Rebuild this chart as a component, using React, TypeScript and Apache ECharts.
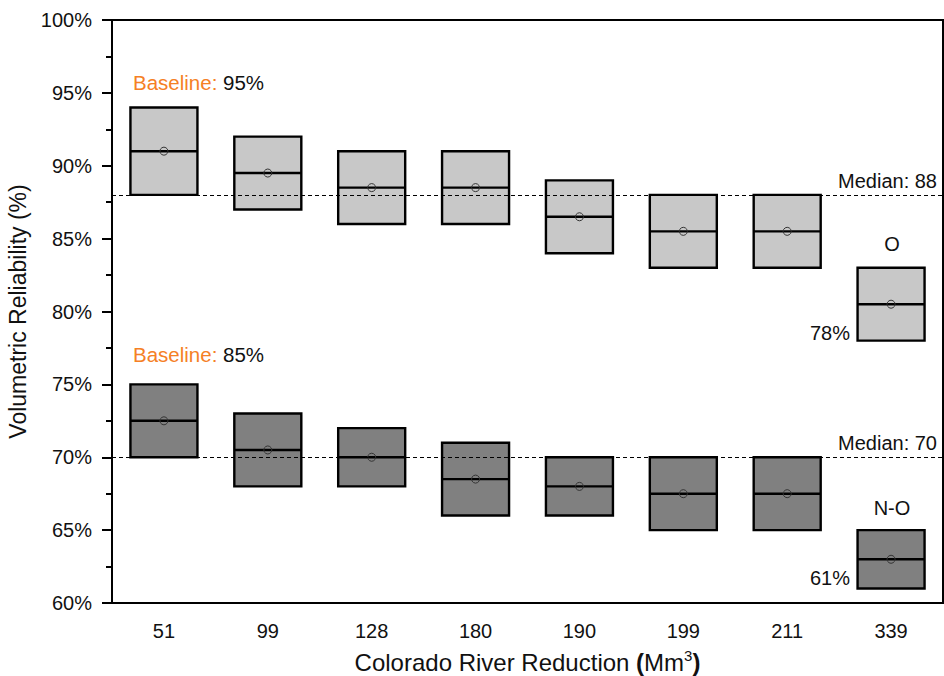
import React, { useEffect, useRef } from "react";
import * as echarts from "echarts";

const categories = ["51", "99", "128", "180", "190", "199", "211", "339"];
const yTicks = [60, 65, 70, 75, 80, 85, 90, 95, 100];

const oLow = [88, 87, 86, 86, 84, 83, 83, 78];
const oHigh = [94, 92, 91, 91, 89, 88, 88, 83];
const oMedian = [91, 89.5, 88.5, 88.5, 86.5, 85.5, 85.5, 80.5];
const oMean = [91, 89.5, 88.5, 88.5, 86.5, 85.5, 85.5, 80.5];

const noLow = [70, 68, 68, 66, 66, 65, 65, 61];
const noHigh = [75, 73, 72, 71, 70, 70, 70, 65];
const noMedian = [72.5, 70.5, 70, 68.5, 68, 67.5, 67.5, 63];
const noMean = [72.5, 70.5, 70, 68.5, 68, 67.5, 67.5, 63];

const medianO = 88;
const medianNO = 70;

const FONT = "'Liberation Sans', Arial, sans-serif";

function makeRender(fill: string) {
  return (params: any, api: any) => {
    const x = api.value(0);
    const lo = api.coord([x, api.value(1)]);
    const hi = api.coord([x, api.value(2)]);
    const med = api.coord([x, api.value(3)]);
    const mean = api.coord([x, api.value(4)]);
    const bw = api.size([1, 0])[0] * 0.645;
    const cx = lo[0];
    return {
      type: "group",
      children: [
        {
          type: "rect",
          shape: { x: cx - bw / 2, y: hi[1], width: bw, height: lo[1] - hi[1] },
          style: { fill, stroke: "#000", lineWidth: 2.4 },
        },
        {
          type: "line",
          shape: { x1: cx - bw / 2, y1: med[1], x2: cx + bw / 2, y2: med[1] },
          style: { stroke: "#000", lineWidth: 2.4 },
        },
        {
          type: "circle",
          shape: { cx: mean[0], cy: mean[1], r: 4 },
          style: { fill: "none", stroke: "#333", lineWidth: 1 },
        },
      ],
    };
  };
}

export default function App() {
  const ref = useRef<HTMLDivElement>(null);
  useEffect(() => {
    const chart = echarts.init(ref.current!, undefined, { renderer: "svg" });
    const oData = categories.map((_, i) => [i, oLow[i], oHigh[i], oMedian[i], oMean[i]]);
    const noData = categories.map((_, i) => [i, noLow[i], noHigh[i], noMedian[i], noMean[i]]);
    const mlLabel = (v: number) => ({
      position: "insideEndTop",
      formatter: "Median: " + v,
      fontSize: 20,
      fontFamily: FONT,
      color: "#111",
      distance: [6, 4],
    });
    const baseRich = {
      a: { fill: "#F58025", fontSize: 20.5, fontFamily: FONT },
      b: { fill: "#111", fontSize: 20.5, fontFamily: FONT },
    };
    chart.setOption({
      animation: false,
      backgroundColor: "#fff",
      grid: {
        left: 112,
        right: 1,
        top: 20,
        bottom: 73,
        outerBoundsMode: "none",
        containLabel: false,
        show: true,
        borderColor: "#000",
        borderWidth: 2,
        backgroundColor: "transparent",
      },
      xAxis: {
        type: "category",
        data: categories,
        name: "Colorado River Reduction {p|(}Mm{s|3}{p|)}",
        nameLocation: "middle",
        nameGap: 45,
        nameTextStyle: {
          fontSize: 24,
          fontFamily: FONT,
          color: "#111",
          lineHeight: 28,
          rich: {
            p: { fontSize: 24, fontWeight: "bold", fontFamily: FONT, color: "#111", lineHeight: 28 },
            s: { fontSize: 15, fontFamily: FONT, color: "#111", verticalAlign: "top", lineHeight: 28, padding: [0, 0, 9, 0] },
          },
        },
        axisLine: { lineStyle: { color: "#000", width: 2 } },
        axisTick: { alignWithLabel: true, length: 10, lineStyle: { color: "#000", width: 2 } },
        axisLabel: { fontSize: 20, fontFamily: FONT, color: "#111", margin: 18 },
        splitLine: { show: false },
      },
      yAxis: {
        type: "value",
        min: yTicks[0],
        max: yTicks[yTicks.length - 1],
        interval: 5,
        name: "Volumetric Reliability (%)",
        nameLocation: "middle",
        nameGap: 74,
        nameTextStyle: { fontSize: 23, fontFamily: FONT, color: "#111" },
        axisLine: { show: true, lineStyle: { color: "#000", width: 2 } },
        axisTick: { show: true, length: 10, lineStyle: { color: "#000", width: 2 } },
        minorTick: { show: true, splitNumber: 2, length: 6, lineStyle: { color: "#000", width: 2 } },
        axisLabel: { fontSize: 20, fontFamily: FONT, color: "#111", margin: 20, formatter: "{value}%" },
        splitLine: { show: false },
      },
      series: [
        {
          type: "custom",
          name: "O",
          renderItem: makeRender("#c8c8c8"),
          encode: { x: 0, y: [1, 2] },
          data: oData,
          z: 3,
        },
        {
          type: "custom",
          name: "N-O",
          renderItem: makeRender("#808080"),
          encode: { x: 0, y: [1, 2] },
          data: noData,
          z: 3,
        },
        {
          type: "line",
          data: [],
          z: 2,
          markLine: {
            silent: true,
            symbol: "none",
            lineStyle: { type: [4, 3], color: "#000", width: 1 },
            data: [
              { yAxis: medianO, label: mlLabel(medianO) },
              { yAxis: medianNO, label: mlLabel(medianNO) },
            ],
          },
        },
      ],
      graphic: [
        {
          type: "text",
          left: 133,
          top: 72,
          style: { text: "{a|Baseline: }{b|95%}", rich: baseRich },
        },
        {
          type: "text",
          left: 133,
          top: 344,
          style: { text: "{a|Baseline: }{b|85%}", rich: baseRich },
        },
        {
          type: "text",
          x: 892,
          y: 244,
          style: { text: "O", fontSize: 20, fontFamily: FONT, fill: "#111", align: "center", verticalAlign: "middle" },
        },
        {
          type: "text",
          x: 850,
          y: 333,
          style: { text: "78%", fontSize: 20, fontFamily: FONT, fill: "#111", align: "right", verticalAlign: "middle" },
        },
        {
          type: "text",
          x: 892,
          y: 508,
          style: { text: "N-O", fontSize: 20, fontFamily: FONT, fill: "#111", align: "center", verticalAlign: "middle" },
        },
        {
          type: "text",
          x: 850,
          y: 578,
          style: { text: "61%", fontSize: 20, fontFamily: FONT, fill: "#111", align: "right", verticalAlign: "middle" },
        },
      ],
    });
    return () => chart.dispose();
  }, []);
  return (
    <div
      ref={ref}
      style={{ position: "fixed", left: 0, top: 0, width: 944, height: 676 }}
    />
  );
}
